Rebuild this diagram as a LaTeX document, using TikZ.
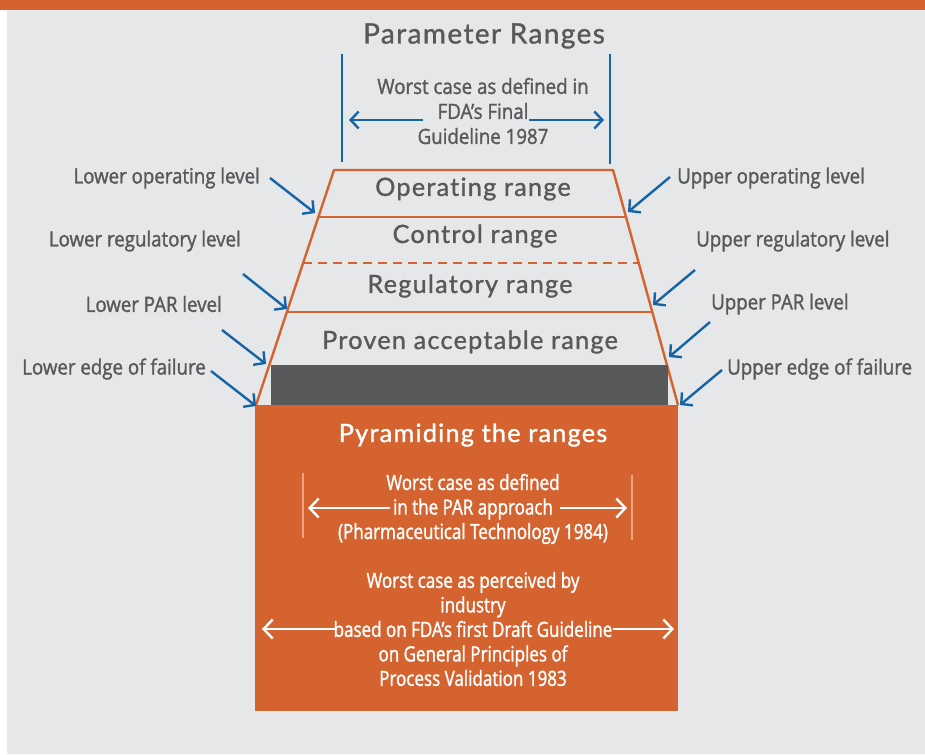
\documentclass[tikz,border=0pt]{standalone}
\usepackage{fontspec}
\setmainfont{Open Sans}
\newfontfamily\rangefont[LetterSpace=5, FakeBold=1.2, Ligatures=NoCommon]{Lato}
\newfontfamily\labelfont[FakeStretch=0.89, FakeBold=1.4]{Open Sans}
\newfontfamily\notefont[FakeStretch=0.81, FakeBold=1.4]{Open Sans}
\usetikzlibrary{arrows.meta}
\definecolor{bg}{HTML}{E6E7E9}
\definecolor{or}{HTML}{D4632F}
\definecolor{dg}{HTML}{58595B}
\definecolor{bl}{HTML}{1565A6}
\definecolor{pe}{HTML}{EDA683}

\tikzset{
  rng/.style={font=\rangefont\fontsize{25.2}{28}\selectfont, text=dg, inner sep=0pt},
  lvl/.style={font=\labelfont\fontsize{21}{25}\selectfont, text=dg, inner sep=0pt},
  note/.style={font=\notefont\fontsize{21}{24.5}\selectfont, align=center, inner sep=0pt},
  edge/.style={draw=or, line width=2.4pt},
  blarr/.style={draw=bl, line width=2.4pt, -{Straight Barb[length=8pt,width=17pt]}},
  wharr/.style={draw=white, line width=2.4pt, -{Straight Barb[length=9pt,width=19pt]}},
}

\begin{document}
\begin{tikzpicture}[x=1pt, y=-1pt]
  \useasboundingbox (0,0) rectangle (925,754);
  \fill[white] (0,0) rectangle (925,754);
  \fill[bg] (7,10) rectangle (925,754);
  \fill[or] (0,0) rectangle (925,10);

  % parameter ranges: limits and the FDA worst case
  \node[rng, font=\rangefont\fontsize{28}{30}\selectfont] (title) at (484,36) {Parameter Ranges};
  \draw[draw=bl, line width=2.4pt] (342,54) -- (342,162);
  \draw[draw=bl, line width=2.4pt] (610,54) -- (610,164);
  \node[note, text=dg, font=\labelfont\fontsize{21}{25}\selectfont] (fda) at (483,111) {Worst case as defined in\\FDA’s Final\\Guideline 1987};
  \coordinate (fdaL) at (423,120);
  \coordinate (fdaR) at (529,120);
  \draw[blarr] (fdaL) -- (349,120);
  \draw[blarr] (fdaR) -- (604,120);

  % the pyramid
  \coordinate (tl) at (334,170);  \coordinate (tr) at (613,170);
  \coordinate (bl) at (256,405);  \coordinate (br) at (678,405);
  \draw[edge, line join=round] (bl) -- (tl) -- (tr) -- (br);
  \draw[edge] (318.4,217) -- (626,217);
  \draw[edge, dash pattern=on 9pt off 6pt] (303.1,263) -- (638.7,263);
  \draw[edge] (286.9,312) -- (652.3,312);
  \fill[dg] (271,365) rectangle (668,405);
  \fill[or] (255,405) rectangle (678,711);

  \node[rng] (opr) at (473,189) {Operating range};
  \node[rng] (ctr) at (475,236) {Control range};
  \node[rng] (reg) at (470,286) {Regulatory range};
  \node[rng] (par) at (470,342) {Proven acceptable range};

  % levels on the left
  \node[lvl, anchor=east] (lop) at (260,178) {Lower operating level};
  \node[lvl, anchor=east] (lrg) at (241,241) {Lower regulatory level};
  \node[lvl, anchor=east] (lpr) at (222,304) {Lower PAR level};
  \node[lvl, anchor=east] (lef) at (206,369) {Lower edge of failure};
  \coordinate (lop1) at (270,178); \coordinate (lop2) at (315,213);
  \coordinate (lrg1) at (243,274); \coordinate (lrg2) at (287,309);
  \coordinate (lpr1) at (222,330); \coordinate (lpr2) at (266,364);
  \coordinate (lef1) at (211,371); \coordinate (lef2) at (256,406);
  \draw[blarr] (lop1) -- (lop2);
  \draw[blarr] (lrg1) -- (lrg2);
  \draw[blarr] (lpr1) -- (lpr2);
  \draw[blarr] (lef1) -- (lef2);

  % levels on the right
  \node[lvl, anchor=west] (uop) at (677,178) {Upper operating level};
  \node[lvl, anchor=west] (urg) at (696,241) {Upper regulatory level};
  \node[lvl, anchor=west] (upr) at (711,304) {Upper PAR level};
  \node[lvl, anchor=west] (uef) at (727,369) {Upper edge of failure};
  \coordinate (uop1) at (670,177); \coordinate (uop2) at (628,212);
  \coordinate (urg1) at (695,270); \coordinate (urg2) at (653,305);
  \coordinate (upr1) at (710,322); \coordinate (upr2) at (669,357);
  \coordinate (uef1) at (722,370); \coordinate (uef2) at (680,405);
  \draw[blarr] (uop1) -- (uop2);
  \draw[blarr] (urg1) -- (urg2);
  \draw[blarr] (upr1) -- (upr2);
  \draw[blarr] (uef1) -- (uef2);

  % pyramiding box
  \node[rng, text=white] (pyr) at (473,435) {Pyramiding the ranges};
  \draw[draw=pe, line width=1.6pt] (303,473) -- (303,538);
  \draw[draw=pe, line width=1.6pt] (632,475) -- (632,540);
  \node[note, text=white] (pat) at (473,509) {Worst case as defined\\in the PAR approach\\(Pharmaceutical Technology 1984)};
  \coordinate (patL) at (390,508);
  \coordinate (patR) at (560,508);
  \draw[wharr] (patL) -- (308,508);
  \draw[wharr] (patR) -- (627,508);

  \node[note, text=white] (ind) at (473,629) {Worst case as perceived by\\industry\\based on FDA’s first Draft Guideline\\on General Principles of\\Process Validation 1983};
  \coordinate (indL) at (335,629);
  \coordinate (indR) at (613,629);
  \draw[wharr] (indL) -- (262,629);
  \draw[wharr] (indR) -- (674,629);
\end{tikzpicture}
\end{document}
